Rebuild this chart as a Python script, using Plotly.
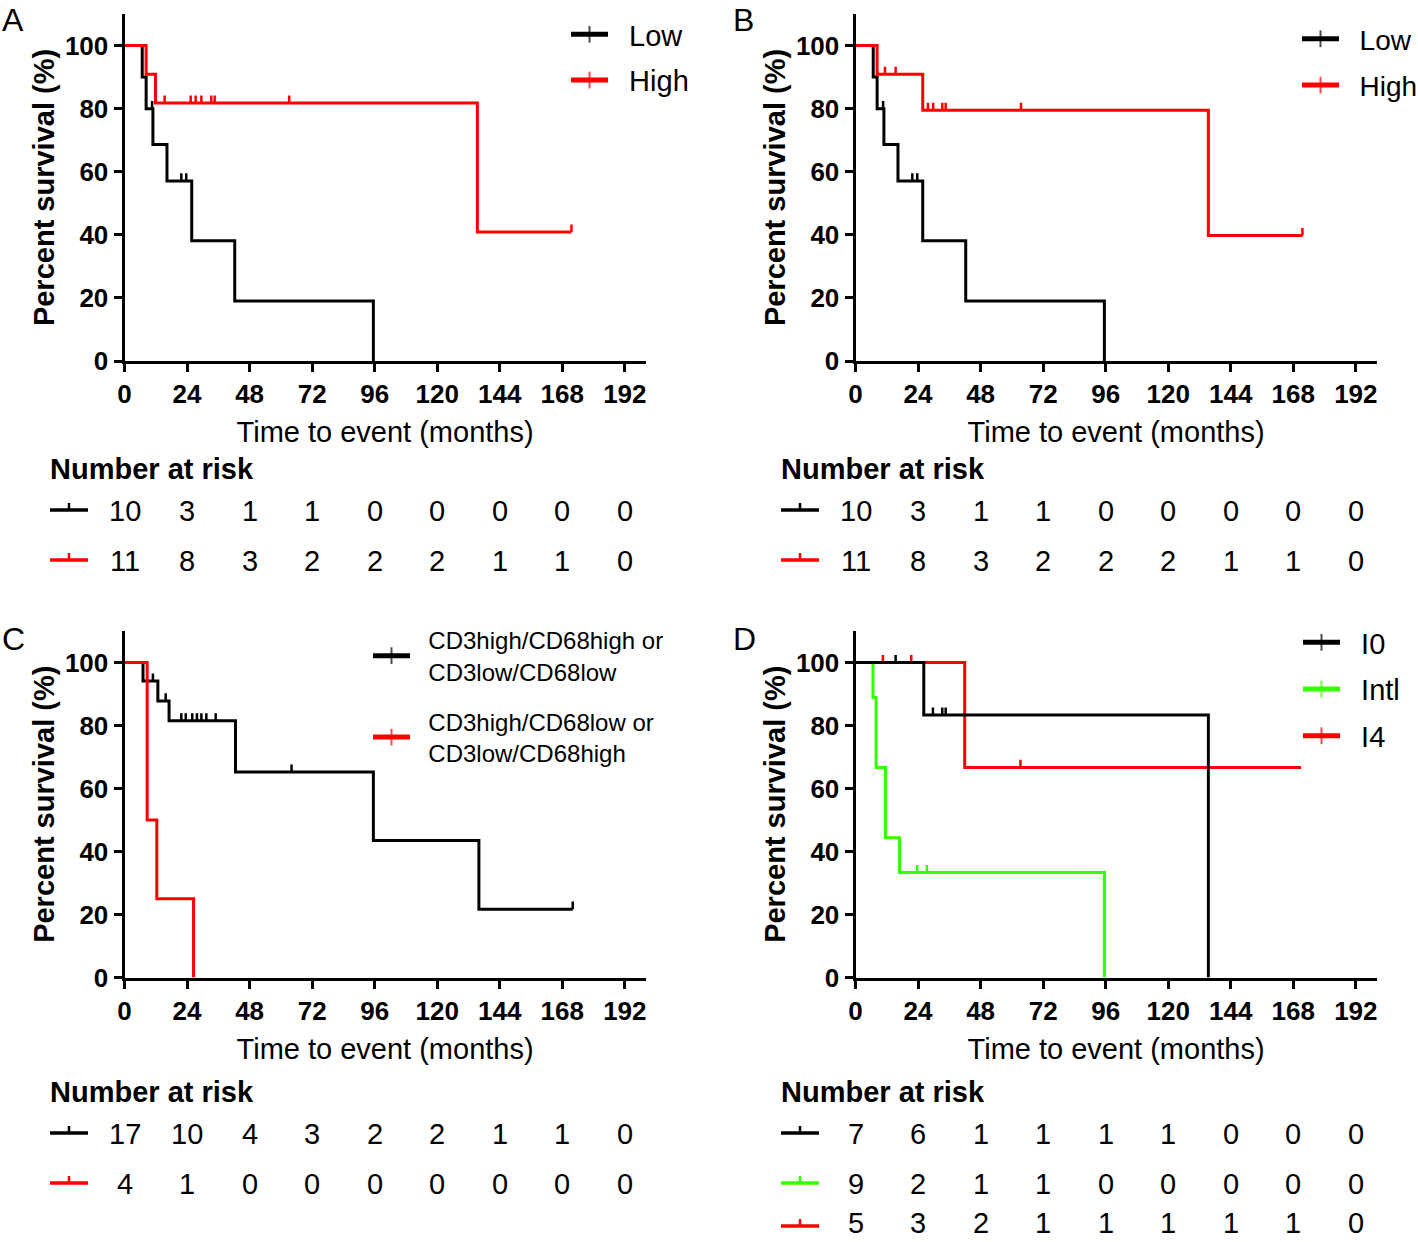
import plotly.graph_objects as go

FONT = "Liberation Sans, Arial, Helvetica, sans-serif"
BLACK = "#000000"
RED = "#FF0000"
GREEN = "#33FF00"

W, H = 1418, 1242

# ---------------- data ----------------
x_ticks = [0, 24, 48, 72, 96, 120, 144, 168, 192]
y_ticks = [0, 20, 40, 60, 80, 100]
risk_times = [0, 24, 48, 72, 96, 120, 144, 168, 192]

# Panel A
a_low_t = [0, 6.8, 8.3, 10.9, 16.3, 25.8, 42.3, 95.5]
a_low_s = [100, 90.0, 80.0, 68.6, 57.1, 38.1, 19.0, 0]
a_low_ct = [10.6, 21.8, 23.7]
a_low_cs = [80.0, 57.1, 57.1]
a_high_t = [0, 8.3, 11.9, 135.4, 171.5]
a_high_s = [100, 90.9, 81.8, 40.9, 40.9]
a_high_ct = [15.4, 25.4, 27.3, 29.5, 33.3, 34.6, 63.2, 171.5]
a_high_cs = [81.8, 81.8, 81.8, 81.8, 81.8, 81.8, 81.8, 40.9]
a_risk_low = [10, 3, 1, 1, 0, 0, 0, 0, 0]
a_risk_high = [11, 8, 3, 2, 2, 2, 1, 1, 0]

# Panel B
b_low_t = [0, 6.8, 8.3, 10.9, 16.3, 25.8, 42.3, 95.5]
b_low_s = [100, 90.0, 80.0, 68.6, 57.1, 38.1, 19.0, 0]
b_low_ct = [10.6, 21.8, 23.7]
b_low_cs = [80.0, 57.1, 57.1]
b_high_t = [0, 8.3, 25.8, 135.4, 171.5]
b_high_s = [100, 90.9, 79.5, 39.8, 39.8]
b_high_ct = [11.3, 15.4, 27.8, 29.8, 33.3, 34.6, 63.5, 171.5]
b_high_cs = [90.9, 90.9, 79.5, 79.5, 79.5, 79.5, 79.5, 39.8]
b_risk_low = [10, 3, 1, 1, 0, 0, 0, 0, 0]
b_risk_high = [11, 8, 3, 2, 2, 2, 1, 1, 0]

# Panel C
c_mixed_t = [0, 7.1, 12.8, 17.1, 42.6, 95.5, 136.0, 172.0]
c_mixed_s = [100, 94.1, 87.8, 81.5, 65.2, 43.5, 21.7, 21.7]
c_mixed_ct = [10.9, 15.8, 21.8, 23.5, 26.0, 27.8, 29.5, 31.4, 35.0, 64.1, 172.0]
c_mixed_cs = [94.1, 87.8, 81.5, 81.5, 81.5, 81.5, 81.5, 81.5, 81.5, 65.2, 21.7]
c_opp_t = [0, 8.7, 12.4, 26.5]
c_opp_s = [100, 50.0, 25.0, 0]
c_opp_ct = []
c_opp_cs = []
c_risk_mixed = [17, 10, 4, 3, 2, 2, 1, 1, 0]
c_risk_opp = [4, 1, 0, 0, 0, 0, 0, 0, 0]

# Panel D
d_i0_t = [0, 26.2, 135.4]
d_i0_s = [100, 83.3, 0]
d_i0_ct = [15.4, 29.7, 33.3, 34.6]
d_i0_cs = [100, 83.3, 83.3, 83.3]
d_intl_t = [0, 6.7, 7.9, 11.5, 16.9, 95.5]
d_intl_s = [100, 88.9, 66.7, 44.4, 33.3, 0]
d_intl_ct = [23.7, 27.4]
d_intl_cs = [33.3, 33.3]
d_i4_t = [0, 41.9, 171.0]
d_i4_s = [100, 66.7, 66.7]
d_i4_ct = [10.5, 21.4, 63.3]
d_i4_cs = [100, 100, 66.7]
d_risk_i0 = [7, 6, 1, 1, 1, 1, 0, 0, 0]
d_risk_intl = [9, 2, 1, 1, 0, 0, 0, 0, 0]
d_risk_i4 = [5, 3, 2, 1, 1, 1, 1, 1, 0]

p_values = {"A": "p=0.022", "B": "p=0.018", "C": "p=0.0008", "D": "p=0.011"}

# ---------------- layout geometry (pixels) ----------------
XL = (124.5 / W, 645.7 / W)
XR = (855.5 / W, 1376.7 / W)
YT = ((H - 361) / H, (H - 14) / H)
YB = ((H - 977.5) / H, (H - 631) / H)

TICK_UP = 2.4  # censor tick height in data units
SP = "\u00a0\u00a0"  # gap between legend glyph and label

fig = go.Figure()


def km(t, s, ct, cs, color, name, ax, legend, rank):
    n = ax[1:] if len(ax) > 1 else ""
    xa, ya = "x" + n, "y" + n
    fig.add_trace(go.Scatter(
        x=t, y=s, mode="lines+markers", name=name,
        line=dict(shape="hv", color=color, width=3),
        marker=dict(symbol="line-ns", size=[0.01] * len(t), color=color,
                    line=dict(width=2.5, color=color)),
        xaxis=xa, yaxis=ya, legend=legend, legendgroup=legend + name,
        legendrank=rank, hoverinfo="skip", cliponaxis=False))
    tx, ty = [], []
    for a, b in zip(ct, cs):
        tx += [a, a, None]
        ty += [b, b + TICK_UP, None]
    if tx:
        fig.add_trace(go.Scatter(
            x=tx, y=ty, mode="lines", line=dict(color=color, width=2.5),
            xaxis=xa, yaxis=ya, showlegend=False, hoverinfo="skip",
            cliponaxis=False))


# Panel A (axis x / y)
km(a_low_t, a_low_s, a_low_ct, a_low_cs, BLACK, SP + "Low", "x", "legend", 1)
km(a_high_t, a_high_s, a_high_ct, a_high_cs, RED, SP + "High", "x", "legend", 2)
# Panel B (x2 / y2)
km(b_low_t, b_low_s, b_low_ct, b_low_cs, BLACK, SP + "Low", "x2", "legend2", 1)
km(b_high_t, b_high_s, b_high_ct, b_high_cs, RED, SP + "High", "x2", "legend2", 2)
# Panel C (x3 / y3)
km(c_mixed_t, c_mixed_s, c_mixed_ct, c_mixed_cs, BLACK,
   SP + "CD3high/CD68high or<br>" + SP + "CD3low/CD68low", "x3", "legend3", 1)
km(c_opp_t, c_opp_s, c_opp_ct, c_opp_cs, RED,
   SP + "CD3high/CD68low or<br>" + SP + "CD3low/CD68high", "x3", "legend3", 2)
# Panel D (x4 / y4)
km(d_i4_t, d_i4_s, d_i4_ct, d_i4_cs, RED, SP + "I4", "x4", "legend4", 3)
km(d_intl_t, d_intl_s, d_intl_ct, d_intl_cs, GREEN, SP + "Intl", "x4", "legend4", 2)
km(d_i0_t, d_i0_s, d_i0_ct, d_i0_cs, BLACK, SP + "I0", "x4", "legend4", 1)

tickfont = dict(family=FONT, size=26, color=BLACK, weight="bold")


def xaxis(domain, anchor):
    return dict(domain=domain, anchor=anchor, range=[0, 200], tickmode="array",
                tickvals=x_ticks, ticktext=[str(v) for v in x_ticks],
                showline=True, linecolor=BLACK, linewidth=3, ticks="outside",
                ticklen=8, tickwidth=3, tickcolor=BLACK, showgrid=False,
                zeroline=False, tickfont=tickfont, automargin=False,
                title=dict(text="Time to event (months)", standoff=14,
                           font=dict(family=FONT, size=29, color=BLACK)))


def yaxis(domain, anchor):
    return dict(domain=domain, anchor=anchor, range=[0, 110], tickmode="array",
                tickvals=y_ticks, ticktext=[str(v) for v in y_ticks],
                showline=True, linecolor=BLACK, linewidth=3, ticks="outside",
                ticklen=8, tickwidth=3, tickcolor=BLACK, showgrid=False,
                zeroline=False, tickfont=tickfont, automargin=False,
                title=dict(text="Percent survival (%)", standoff=2,
                           font=dict(family=FONT, size=29, color=BLACK,
                                     weight="bold")))


def legend_cfg(x_px, y_px, size, gap):
    return dict(x=x_px / W, y=1 - y_px / H, xanchor="left", yanchor="top",
                xref="paper", yref="paper", bgcolor="rgba(0,0,0,0)",
                font=dict(family=FONT, size=size, color=BLACK),
                itemsizing="constant", itemwidth=37, traceorder="grouped",
                tracegroupgap=gap, itemclick=False, itemdoubleclick=False)


annotations = []
shapes = []

panels = [
    ("A", "x", 0, 50, 469, [(a_risk_low, BLACK, 510), (a_risk_high, RED, 560)]),
    ("B", "x2", 731, 781, 469, [(b_risk_low, BLACK, 510), (b_risk_high, RED, 560)]),
    ("C", "x3", 0, 50, 1092, [(c_risk_mixed, BLACK, 1133), (c_risk_opp, RED, 1183)]),
    ("D", "x4", 731, 781, 1092, [(d_risk_i0, BLACK, 1133), (d_risk_intl, GREEN, 1183),
                                 (d_risk_i4, RED, 1222)]),
]
letter_y = {"A": 0, "B": 0, "C": 619, "D": 619}

for letter, xr, lx, hx, hy, rows in panels:
    yr = "y" + xr[1:]
    annotations.append(dict(text=letter, xref="paper", yref="paper", x=lx / W,
                            y=1 - letter_y[letter] / H, xanchor="left",
                            yanchor="top", showarrow=False,
                            font=dict(family=FONT, size=32, color=BLACK)))
    annotations.append(dict(text=p_values[letter], xref=xr, yref=yr, x=201.5,
                            y=8.2, xanchor="right", yanchor="middle",
                            showarrow=False,
                            font=dict(family=FONT, size=29, color=BLACK)))
    annotations.append(dict(text="<b>Number at risk</b>", xref="paper", yref="paper",
                            x=(hx - 2) / W, y=1 - hy / H, xanchor="left",
                            yanchor="middle", showarrow=False,
                            font=dict(family=FONT, size=29, color=BLACK)))
    for counts, color, ry in rows:
        gy = ry if ry < 1200 else ry + 4
        shapes.append(dict(type="line", xref="paper", yref="paper",
                           x0=hx / W, x1=(hx + 38) / W, y0=1 - gy / H, y1=1 - gy / H,
                           line=dict(color=color, width=3.5)))
        shapes.append(dict(type="line", xref="paper", yref="paper",
                           x0=(hx + 19) / W, x1=(hx + 19) / W, y0=1 - gy / H,
                           y1=1 - (gy - 7) / H, line=dict(color=color, width=2.5)))
        for t, n in zip(risk_times, counts):
            annotations.append(dict(text=str(n), xref=xr, yref="paper", x=t,
                                    y=1 - (ry + 1) / H, xanchor="center",
                                    yanchor="middle", showarrow=False,
                                    font=dict(family=FONT, size=29, color=BLACK)))

fig.update_layout(
    width=W, height=H,
    margin=dict(l=0, r=0, t=0, b=0, pad=0, autoexpand=False),
    paper_bgcolor="white", plot_bgcolor="white",
    font=dict(family=FONT, color=BLACK),
    xaxis=xaxis(XL, "y"), yaxis=yaxis(YT, "x"),
    xaxis2=xaxis(XR, "y2"), yaxis2=yaxis(YT, "x2"),
    xaxis3=xaxis(XL, "y3"), yaxis3=yaxis(YB, "x3"),
    xaxis4=xaxis(XR, "y4"), yaxis4=yaxis(YB, "x4"),
    legend=legend_cfg(566, 9, 29, 5),
    legend2=legend_cfg(1297, 14, 28, 7),
    legend3=legend_cfg(368, 618, 24, 16),
    legend4=legend_cfg(1298, 617, 29, 6),
    annotations=annotations, shapes=shapes,
    showlegend=True,
)

fig.write_html("out.html",
               config={"displayModeBar": False},
               post_script="document.body.style.margin='0';"
                           "document.body.style.overflow='hidden';")
